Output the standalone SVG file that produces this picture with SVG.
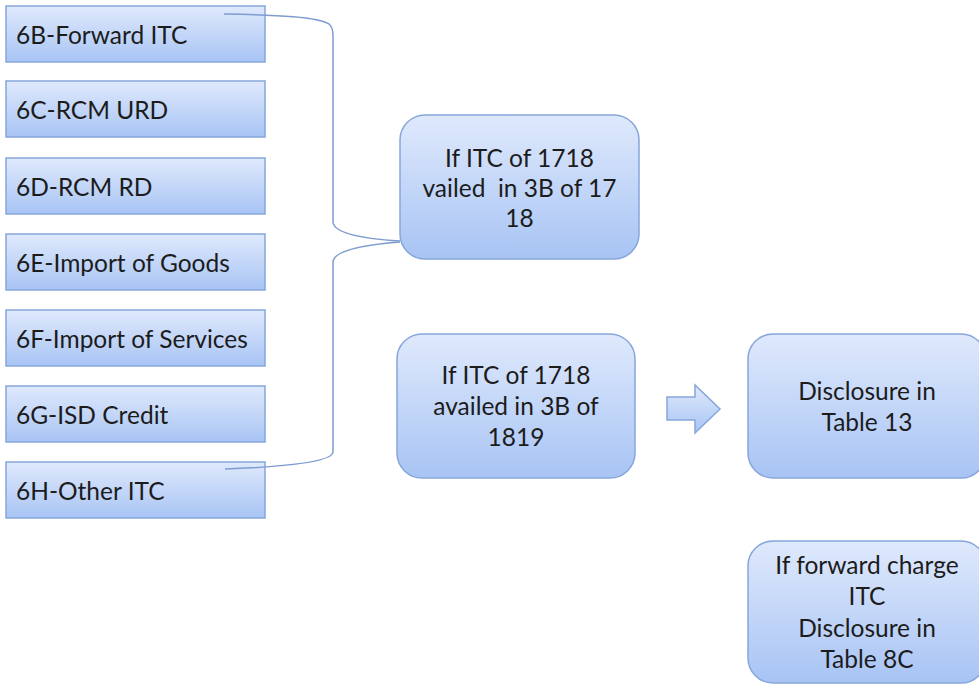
<svg xmlns="http://www.w3.org/2000/svg" width="979" height="685" viewBox="0 0 979 685">
<defs>
<linearGradient id="g" x1="0" y1="0" x2="0" y2="1">
<stop offset="0" stop-color="#dfe9fc"/>
<stop offset="1" stop-color="#a8c4f4"/>
</linearGradient>
<style>
.box{fill:url(#g);stroke:#86a6dc;stroke-width:1.5}
.t{font-family:Lato,"Liberation Sans",sans-serif;font-size:24.5px;fill:#1c1c1c;white-space:pre}
.c{text-anchor:middle}
.con{fill:none;stroke:#7f9cd0;stroke-width:1.5}
</style>
</defs>
<rect width="979" height="685" fill="#ffffff"/>
<g id="n6B"><rect class="box" x="6" y="6" width="259" height="56"/><text class="t" x="16" y="44">6B-Forward ITC</text></g>
<g id="n6C"><rect class="box" x="6" y="81" width="259" height="56"/><text class="t" x="16" y="119">6C-RCM URD</text></g>
<g id="n6D"><rect class="box" x="6" y="158" width="259" height="56"/><text class="t" x="16" y="196">6D-RCM RD</text></g>
<g id="n6E"><rect class="box" x="6" y="234" width="259" height="56"/><text class="t" x="16" y="272">6E-Import of Goods</text></g>
<g id="n6F"><rect class="box" x="6" y="310" width="259" height="56"/><text class="t" x="16" y="348">6F-Import of Services</text></g>
<g id="n6G"><rect class="box" x="6" y="386" width="259" height="56"/><text class="t" x="16" y="424">6G-ISD Credit</text></g>
<g id="n6H"><rect class="box" x="6" y="462" width="259" height="56"/><text class="t" x="16" y="500">6H-Other ITC</text></g>
<g id="vailed"><rect class="box" x="400" y="115" width="239" height="144" rx="25"/>
<text class="t c" x="519.5" y="167">If ITC of 1718</text>
<text class="t c" x="519.5" y="197">vailed  in 3B of 17</text>
<text class="t c" x="519.5" y="227">18</text></g>
<g id="availed"><rect class="box" x="397" y="334" width="238" height="144" rx="25"/>
<text class="t c" x="516" y="384">If ITC of 1718</text>
<text class="t c" x="516" y="415">availed in 3B of</text>
<text class="t c" x="516" y="446">1819</text></g>
<g id="arrow"><polygon class="box" points="667,397 695,397 695,385 720,409 695,433 695,420 667,420"/></g>
<g id="table13"><rect class="box" x="748" y="334" width="238" height="144" rx="25"/>
<text class="t c" x="867" y="400">Disclosure in</text>
<text class="t c" x="867" y="431">Table 13</text></g>
<g id="table8c"><rect class="box" x="748" y="541" width="238" height="142" rx="25"/>
<text class="t c" x="867" y="574">If forward charge</text>
<text class="t c" x="867" y="605">ITC</text>
<text class="t c" x="867" y="637">Disclosure in</text>
<text class="t c" x="867" y="668">Table 8C</text></g>
<g id="connectors">
<path class="con" d="M224,14 C280,15 318,17 329,24 Q333,27 333,36 L333,222 Q334,237 400,241"/>
<path class="con" d="M400,242 Q334,247 333,262 L333,452 Q332,465 225,469"/>
</g>
</svg>
